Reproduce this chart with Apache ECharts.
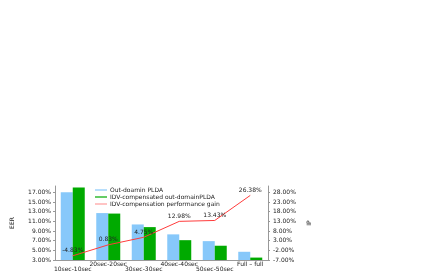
<!DOCTYPE html>
<html><head><meta charset="utf-8">
<script src="https://cdn.jsdelivr.net/npm/echarts@6/dist/echarts.min.js"></script>
<style>html,body{margin:0;padding:0;background:#fff}#c{width:436px;height:273px}</style>
</head><body><div id="c"></div>
<script>
const categories = ['10sec-10sec','20sec-20sec','30sec-30sec','40sec-40sec','50sec-50sec','Full – full'];
const outDomain = [17.0, 12.7, 10.35, 8.3, 6.9, 4.7];
const idvComp = [18.0, 12.6, 9.8, 7.1, 5.95, 3.5];
const gain = [-4.83, 0.83, 4.75, 12.98, 13.43, 26.38];
const seriesNames = ['Out-doamin PLDA','IDV-compensated out-domainPLDA','IDV-compensation performance gain'];

const font = 'DejaVu Sans, sans-serif';
const chart = echarts.init(document.getElementById('c'));
chart.setOption({
  animation: false,
  grid: {left: 55, right: 168, top: 186, bottom: 13},
  legend: {
    left: 93, top: 186, orient: 'vertical', itemGap: 1,
    itemWidth: 12, itemHeight: 6,
    textStyle: {fontSize: 6, fontFamily: font, color: '#222', padding: [0,0,0,-2]},
    backgroundColor: '#fff',
    padding: [1, 2, 1, 2],
    data: [
      {name: seriesNames[0], icon: 'path://M0,4L20,4L20,6L0,6Z'},
      {name: seriesNames[1], icon: 'path://M0,4L20,4L20,6L0,6Z'},
      {name: seriesNames[2], icon: 'path://M0,4.5L20,4.5L20,5.5L0,5.5Z'}
    ]
  },
  xAxis: {
    type: 'category', data: categories,
    axisLine: {onZero: false, lineStyle: {color: '#999', width: 1}},
    axisTick: {show: false},
    axisLabel: {
      interval: 0, fontSize: 6, fontFamily: font, color: '#222', margin: 2, lineHeight: 5,
      formatter: (v, i) => (i % 2 === 0 ? '\n' + v : v)
    }
  },
  yAxis: [
    {
      type: 'value', min: 3, max: 18.3, interval: 2,
      name: 'EER', nameLocation: 'middle', nameGap: 40, nameRotate: 90,
      nameTextStyle: {fontSize: 6, fontFamily: font, color: '#222'},
      splitLine: {show: false},
      axisLine: {show: true, onZero: false, lineStyle: {color: '#999'}},
      axisTick: {show: true, length: 2, lineStyle: {color: '#999'}},
      axisLabel: {showMaxLabel: false, fontSize: 6, fontFamily: font, color: '#222', margin: 4,
        formatter: v => v.toFixed(2) + '%'}
    },
    {
      type: 'value', min: -7, max: 31.25, interval: 5,
      name: 'IP', nameLocation: 'middle', nameGap: 38, nameRotate: 90,
      nameTextStyle: {fontSize: 6, fontFamily: font, color: '#222'},
      splitLine: {show: false},
      axisLine: {show: true, onZero: false, lineStyle: {color: '#999'}},
      axisTick: {show: true, length: 2, lineStyle: {color: '#999'}},
      axisLabel: {showMaxLabel: false, fontSize: 6, fontFamily: font, color: '#222', margin: 5,
        formatter: v => v.toFixed(2) + '%'}
    }
  ],
  series: [
    {name: seriesNames[0], type: 'bar', data: outDomain, barWidth: 12, barGap: '0%',
      itemStyle: {color: '#87c8fa'}},
    {name: seriesNames[1], type: 'bar', data: idvComp, barWidth: 12,
      itemStyle: {color: '#00aa00'}},
    {name: seriesNames[2], type: 'line', yAxisIndex: 1, data: gain,
      symbol: 'circle', symbolSize: 0.1, showSymbol: true,
      lineStyle: {color: '#ff3b3b', width: 1}, itemStyle: {color: '#ff3b3b'},
      label: {show: true, position: 'top', distance: 2, fontSize: 6, fontFamily: font, color: '#222',
        formatter: p => p.value.toFixed(2) + '%'}}
  ]
});
</script></body></html>
